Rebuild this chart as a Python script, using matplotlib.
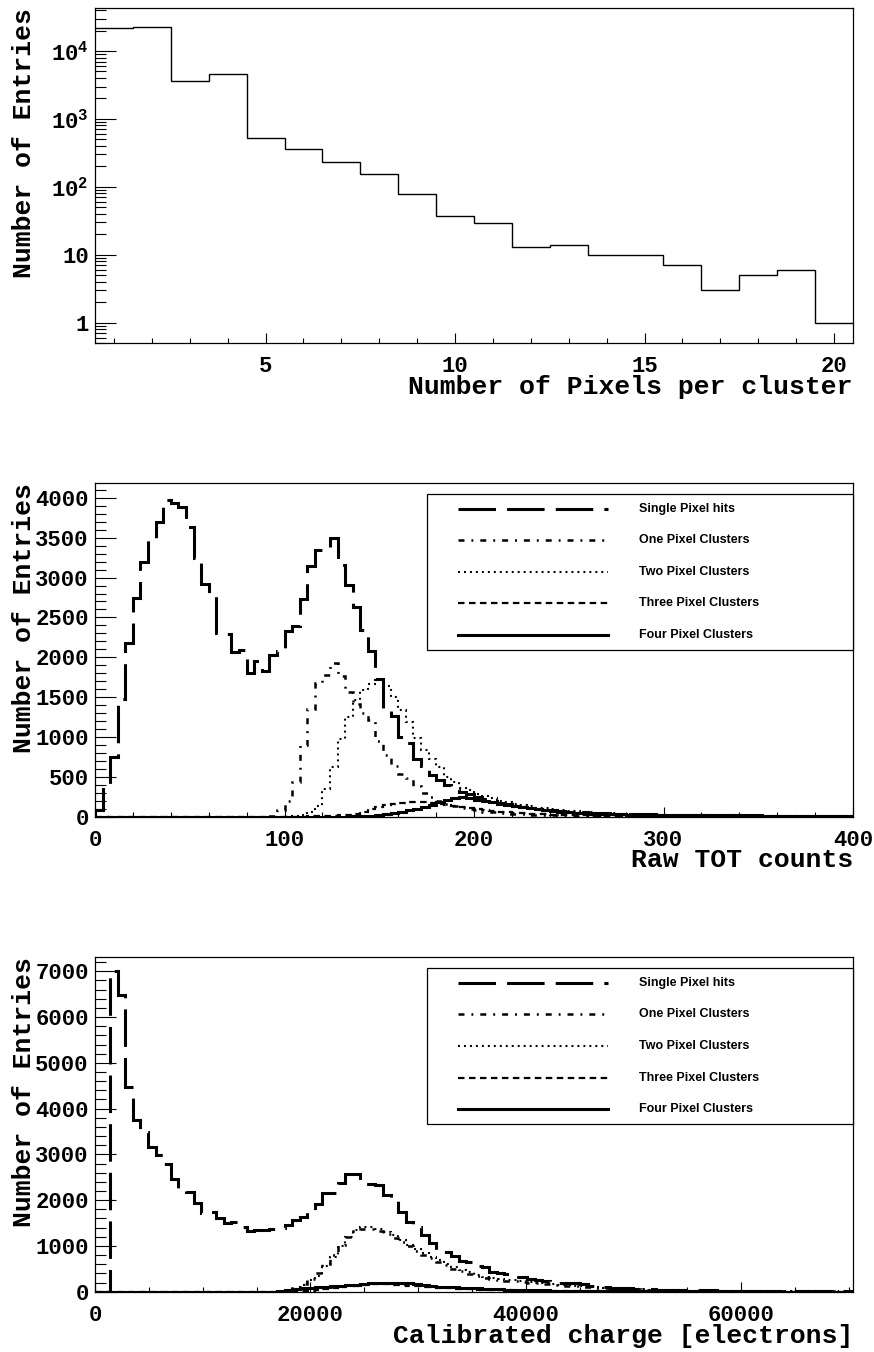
import numpy as np
import matplotlib
matplotlib.use("Agg")
import matplotlib.pyplot as plt
from matplotlib.ticker import MultipleLocator, LogLocator, FuncFormatter, NullFormatter
from matplotlib.lines import Line2D
from matplotlib.patches import Rectangle

plt.rcParams['font.family'] = ['Liberation Mono', 'DejaVu Sans Mono']
plt.rcParams['font.weight'] = 'bold'
plt.rcParams['axes.labelweight'] = 'bold'
plt.rcParams['mathtext.fontset'] = 'custom'
plt.rcParams['mathtext.rm'] = 'Liberation Mono:bold'
plt.rcParams['mathtext.it'] = 'Liberation Mono:bold'
plt.rcParams['mathtext.bf'] = 'Liberation Mono:bold'
plt.rcParams['lines.scale_dashes'] = False

# --- Cluster size (bins 1..20) ---
cluster_size = [1, 2, 3, 4, 5, 6, 7, 8, 9, 10, 11, 12, 13, 14, 15, 16, 17, 18, 19, 20]
cluster_counts = [21600, 22800, 3600, 4630, 515, 362, 233, 153, 78, 37,
                  29, 13, 14, 10, 10, 7, 3, 5, 6, 1]

# --- Raw TOT, 100 bins von 0 bis 400 ---
tot_bin = 4
tot_single = [90, 395, 750, 1475, 2180, 2743, 3195, 3500, 3695, 3970,
              3935, 3880, 3640, 3250, 2920, 2764, 2310, 2290, 2060, 2094,
              1800, 1958, 1822, 2031, 2073, 2325, 2396, 2731, 3141, 3351,
              3340, 3497, 3162, 2911, 2630, 2345, 2073, 1725, 1330, 1260,
              1005, 930, 720, 640, 523, 460, 400, 345, 315, 285,
              250, 220, 195, 175, 155, 140, 125, 110, 98, 88,
              80, 72, 65, 60, 55, 50, 46, 42, 39, 36,
              34, 32, 30, 28, 26, 24, 23, 22, 22, 21,
              20, 19, 19, 18, 17, 17, 16, 16, 15, 15,
              14, 14, 13, 13, 12, 12, 12, 11, 11, 10]
tot_one = [0] * 22 + [3, 10, 80, 200, 430, 900, 1350, 1680, 1780, 1930,
                      1760, 1570, 1420, 1300, 1215, 950, 775, 640, 540, 480,
                      380, 300, 250, 200, 165, 135, 110, 92, 78, 65,
                      55, 47, 40, 34, 29, 25, 21, 18, 16, 14,
                      12, 10, 9, 8, 7, 7, 6, 6, 5, 5,
                      5, 4, 4, 4, 4, 3, 3, 3, 3, 3,
                      2, 2, 2, 2, 2, 2, 2, 1, 1, 1,
                      1, 1, 1, 1, 1, 1, 1, 1]
tot_two = [0] * 26 + [5, 20, 60, 140, 350, 620, 980, 1250, 1460, 1590,
                      1670, 1715, 1635, 1500, 1340, 1190, 985, 840, 730, 620,
                      500, 430, 365, 330, 290, 260, 230, 200, 180, 160,
                      145, 130, 115, 105, 95, 85, 76, 68, 62, 56,
                      50, 45, 41, 37, 33, 30, 27, 24, 22, 20,
                      18, 17, 15, 14, 13, 12, 11, 10, 9, 9,
                      8, 7, 7, 6, 6, 5, 5, 5, 4, 4,
                      4, 3, 3, 3]
tot_three = [0] * 28 + [3, 5, 8, 12, 18, 25, 35, 60, 95, 125,
                        145, 160, 172, 180, 185, 185, 178, 165, 150, 135,
                        120, 105, 92, 80, 70, 62, 55, 48, 42, 37,
                        33, 29, 26, 23, 21, 19, 17, 15, 14, 13,
                        12, 11, 10, 9, 9, 8, 7, 7, 6, 6,
                        5, 5, 5, 4, 4, 4, 3, 3, 3, 3,
                        2, 2, 2, 2, 2, 2, 1, 1, 1, 1,
                        1, 1]
tot_four = [0] * 34 + [3, 5, 10, 18, 28, 42, 60, 78, 100, 125,
                       150, 185, 215, 235, 242, 235, 215, 195, 180, 165,
                       150, 135, 120, 105, 92, 80, 70, 62, 55, 49,
                       44, 40, 36, 33, 31, 29, 27, 25, 24, 23,
                       22, 21, 20, 19, 19, 18, 18, 17, 17, 16,
                       16, 15, 15, 14, 14, 14, 13, 13, 13, 12,
                       12, 12, 11, 11, 11, 10]

# --- Kalibrierte Ladung, 100 bins von 0 bis 70400 ---
q_bin = 704
q_single = [0, 0, 7000, 6480, 4476, 3748, 3490, 3166, 2984, 2780,
            2460, 2255, 2168, 1928, 1730, 1740, 1601, 1492, 1528, 1420,
            1330, 1340, 1350, 1370, 1400, 1455, 1570, 1637, 1785, 1914,
            2147, 2147, 2375, 2575, 2575, 2360, 2350, 2330, 2110, 1990,
            1747, 1528, 1420, 1237, 1055, 895, 875, 790, 665, 640,
            555, 540, 435, 415, 395, 330, 320, 280, 262, 225,
            210, 200, 190, 180, 160, 120, 110, 100, 90, 80,
            72, 65, 58, 52, 47, 43, 40, 37, 34, 31,
            29, 27, 25, 23, 22, 21, 20, 19, 18, 17,
            16, 15, 15, 14, 13, 13, 12, 12, 11, 11]
q_one = [0] * 25 + [30, 80, 170, 280, 400, 600, 800, 1020, 1200, 1320,
                    1380, 1370, 1330, 1260, 1180, 1080, 990, 900, 810, 730,
                    650, 575, 505, 445, 390, 345, 305, 275, 255, 240,
                    225, 210, 195, 180, 165, 150, 138, 126, 115, 105,
                    95, 86, 78, 70, 63, 57, 51, 46, 41, 37,
                    33, 30, 27, 24, 22, 20, 18, 16, 15, 14,
                    13, 12, 11, 10, 9, 8, 8, 7, 7, 6,
                    6, 5, 5, 4, 4]
q_two = [0] * 26 + [60, 150, 250, 350, 560, 760, 1000, 1200, 1350, 1410,
                    1420, 1380, 1300, 1230, 1120, 1030, 930, 850, 760, 690,
                    610, 540, 480, 420, 370, 330, 295, 275, 260, 245,
                    230, 215, 200, 185, 170, 155, 142, 130, 120, 110,
                    98, 88, 78, 70, 62, 55, 49, 44, 39, 35,
                    31, 28, 25, 22, 20, 18, 16, 15, 14, 13,
                    12, 11, 10, 9, 8, 8, 7, 7, 6, 6,
                    5, 5, 4, 4]
q_three = [0] * 26 + [5, 10, 20, 35, 55, 75, 95, 115, 135, 150,
                      160, 162, 158, 150, 140, 130, 118, 106, 95, 85,
                      76, 68, 60, 53, 47, 42, 37, 33, 29, 26,
                      23, 21, 19, 17, 15, 14, 13, 12, 11, 10,
                      9, 9, 8, 8, 7, 7, 6, 6, 5, 5,
                      5, 4, 4, 4, 3, 3, 3, 3, 2, 2,
                      2, 2, 2, 2, 1, 1, 1, 1, 1, 1,
                      1, 1, 1, 1]
q_four = [0] * 24 + [5, 40, 55, 70, 85, 100, 110, 120, 130, 140,
                     155, 175, 195, 200, 198, 192, 186, 180, 165, 150,
                     130, 112, 100, 92, 85, 78, 72, 65, 58, 50,
                     44, 40, 36, 33, 30, 28, 26, 24, 22, 20,
                     19, 18, 17, 16, 15, 14, 13, 12, 11, 10,
                     10, 9, 9, 8, 8, 7, 7, 6, 6, 6,
                     5, 5, 5, 5, 4, 4, 4, 4, 3, 3,
                     3, 3, 3, 2, 2, 2]

labels = ["Single Pixel hits", "One Pixel Clusters", "Two Pixel Clusters",
          "Three Pixel Clusters", "Four Pixel Clusters"]

# Linienstile (in Punkt, nicht skaliert)
styles = [dict(linewidth=2.2, linestyle=(0, (27, 8))),
          dict(linewidth=1.8, linestyle=(0, (4.3, 5.0, 1.4, 5.0))),
          dict(linewidth=1.5, linestyle=(0, (1.4, 2.9))),
          dict(linewidth=1.6, linestyle=(0, (4.7, 3.2))),
          dict(linewidth=2.2, linestyle='-')]


def rahmen(ax, xmaj, xmin, ymaj=None, ymin=None):
    for s in ax.spines.values():
        s.set_linewidth(0.9)
    ax.tick_params(which='both', direction='in', top=False, right=False, width=0.8,
                   labelsize=16)
    ax.tick_params(axis='y', which='major', length=15, pad=4.5)
    ax.tick_params(axis='y', which='minor', length=8)
    ax.tick_params(axis='x', which='major', length=7.2, pad=9.5)
    ax.tick_params(axis='x', which='minor', length=3.6)
    ax.xaxis.set_major_locator(MultipleLocator(xmaj))
    ax.xaxis.set_minor_locator(MultipleLocator(xmin))
    if ymaj is not None:
        ax.yaxis.set_major_locator(MultipleLocator(ymaj))
        ax.yaxis.set_minor_locator(MultipleLocator(ymin))


def titel(ax, xt):
    ax.set_xlabel(xt, fontsize=19, loc='right', fontweight='bold')
    ax.xaxis.set_label_coords(1.0, -0.152)
    ax.xaxis.label.set_va('baseline')
    ax.set_ylabel("Number of Entries", fontsize=19, loc='top', fontweight='bold')
    ax.yaxis.set_label_coords(-0.078, 1.0)


def legende(ax):
    ax.add_patch(Rectangle((0.4376, 0.4995), 0.5624, 0.4665, transform=ax.transAxes,
                           facecolor='white', edgecolor='black', linewidth=0.9,
                           zorder=5, clip_on=False))
    rows = np.linspace(0.922, 0.545, len(labels))
    for y, lab, st in zip(rows, labels, styles):
        ax.add_line(Line2D([0.4789, 0.6764], [y, y], transform=ax.transAxes,
                           color='black', zorder=6, **st))
        ax.text(0.7177, y, lab, transform=ax.transAxes, fontsize=9,
                family='Liberation Sans', weight='bold', va='center', zorder=6)


def hist_panel(ax, serien, breite):
    for werte, st in zip(serien, styles):
        kanten = np.arange(len(werte) + 1) * breite
        ax.stairs(werte, kanten, baseline=0, color='black', **st)


fig = plt.figure(figsize=(8.74, 13.52), dpi=100)
links, breite = 95 / 874, 758 / 874

# Oben: Clustergroesse, log
ax1 = fig.add_axes([links, 1009 / 1352, breite, 335 / 1352])
kanten = np.append(np.array(cluster_size) - 0.5, cluster_size[-1] + 0.5)
ax1.stairs(cluster_counts, kanten, baseline=None, color='black', linewidth=1.0)
ax1.set_yscale('log')
ax1.set_xlim(0.5, 20.5)
ax1.set_ylim(0.5, 4.3e4)
rahmen(ax1, 5, 1)
ax1.yaxis.set_major_locator(LogLocator(base=10, numticks=10))
ax1.yaxis.set_minor_locator(LogLocator(base=10, subs=np.arange(2, 10), numticks=10))
ax1.yaxis.set_minor_formatter(NullFormatter())


def log_fmt(v, pos):
    e = int(round(np.log10(v)))
    if e == 0:
        return "1"
    if e == 1:
        return "10"
    return r"$10^{%d}$" % e


ax1.yaxis.set_major_formatter(FuncFormatter(log_fmt))
titel(ax1, "Number of Pixels per cluster")

# Mitte: Raw TOT
ax2 = fig.add_axes([links, 535.3 / 1352, breite, 334 / 1352])
hist_panel(ax2, [tot_single, tot_one, tot_two, tot_three, tot_four], tot_bin)
ax2.set_xlim(0, 400)
ax2.set_ylim(0, 4190)
rahmen(ax2, 100, 20, 500, 100)
titel(ax2, "Raw TOT counts")
legende(ax2)

# Unten: kalibrierte Ladung
ax3 = fig.add_axes([links, 60.3 / 1352, breite, 335 / 1352])
hist_panel(ax3, [q_single, q_one, q_two, q_three, q_four], q_bin)
ax3.set_xlim(0, 70400)
ax3.set_ylim(0, 7320)
rahmen(ax3, 20000, 5000, 1000, 200)
titel(ax3, "Calibrated charge [electrons]")
legende(ax3)

fig.savefig("out.png", dpi=100)
